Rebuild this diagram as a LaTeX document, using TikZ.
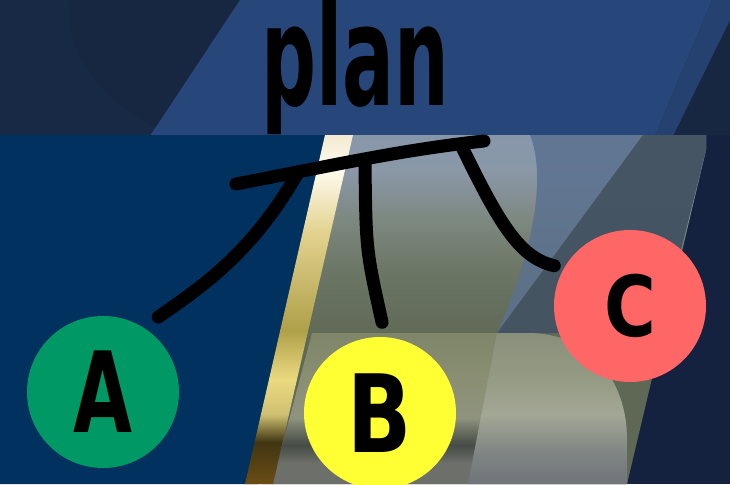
\documentclass[tikz,border=0pt]{standalone}
\usepackage{fontspec}
\setmainfont{DejaVu Sans}
\usetikzlibrary{calc}
\definecolor{topdark}{HTML}{172641}
\definecolor{toplight}{HTML}{27477A}
\definecolor{navy}{HTML}{14213F}
\definecolor{leftblue}{HTML}{00315F}
\definecolor{greenA}{HTML}{009966}
\definecolor{yellowB}{HTML}{FFFF33}
\definecolor{redC}{HTML}{FF6666}
\definecolor{midR}{HTML}{5B7190}
\definecolor{midD}{HTML}{3F4D58}
\definecolor{g1}{HTML}{6A4D14}\definecolor{g2}{HTML}{403512}
\definecolor{g3}{HTML}{CFC173}\definecolor{g4}{HTML}{EBD97F}
\definecolor{g5}{HTML}{AFA04A}\definecolor{g6}{HTML}{E2D28E}
\definecolor{g7}{HTML}{FFFBEF}\definecolor{g8}{HTML}{F3EAD0}
\pgfdeclareverticalshading{gold}{100bp}{color(0bp)=(g1); color(25bp)=(g1);
  color(31bp)=(g2); color(35bp)=(g3); color(40bp)=(g4); color(47bp)=(g5);
  color(61bp)=(g6); color(70bp)=(g7); color(75bp)=(g8); color(100bp)=(g8)}
\definecolor{m1}{HTML}{5E6854}\definecolor{m2}{HTML}{6B7564}
\definecolor{m3}{HTML}{7D8880}\definecolor{m4}{HTML}{8A98A8}\definecolor{m5}{HTML}{8797AA}
\pgfdeclareverticalshading{midshade}{100bp}{color(0bp)=(m1); color(25bp)=(m1);
  color(45bp)=(m1); color(55bp)=(m2); color(63bp)=(m3); color(70bp)=(m4); color(75bp)=(m5); color(100bp)=(m5)}
\definecolor{p1}{HTML}{6C6F6A}\definecolor{p2}{HTML}{454B46}
\definecolor{p3}{HTML}{8F937E}\definecolor{p4}{HTML}{8A8F73}\definecolor{p5}{HTML}{7E8569}
\pgfdeclareverticalshading{panelL}{100bp}{color(0bp)=(p1); color(25bp)=(p1);
  color(32bp)=(p1); color(38bp)=(p2); color(47bp)=(p3); color(60bp)=(p4); color(75bp)=(p5); color(100bp)=(p5)}
\definecolor{q1}{HTML}{707479}\definecolor{q2}{HTML}{7F8484}
\definecolor{q3}{HTML}{A3A795}\definecolor{q4}{HTML}{959A84}\definecolor{q5}{HTML}{8A8F7B}
\pgfdeclareverticalshading{panelR}{100bp}{color(0bp)=(q1); color(25bp)=(q1);
  color(35bp)=(q2); color(48bp)=(q3); color(60bp)=(q4); color(75bp)=(q5); color(100bp)=(q5)}
\tikzset{
  circ/.style={circle, minimum size=152pt, inner sep=0pt},
  link/.style={line width=13pt, line cap=round, black},
}
\begin{document}
\begin{tikzpicture}[x=1pt,y=-1pt]
\useasboundingbox (0,0) rectangle (730,484);
% top band
\fill[topdark] (0,0) rectangle (730,136);
\fill[topdark!92!toplight] (70,0) .. controls (60,60) and (120,120) .. (180,136) -- (0,136) -- (0,0) -- cycle;
\fill[toplight] (240,0) -- (712,0) -- (655,136) -- (150,136) -- cycle;
\fill[toplight!80!topdark] (712,0) -- (730,0) -- (730,20) -- (673,136) -- (655,136) -- cycle;
% lower band
\fill[navy] (0,135) rectangle (730,484);
\fill[leftblue] (0,135) -- (335,135) -- (258,484) -- (0,484) -- cycle;
\shade[shading=midshade] (340,135) -- (706,135) -- (706,150) -- (627,484) -- (262,484) -- cycle;
\fill[midR, opacity=0.85] (530,135) .. controls (548,180) and (530,260) .. (497,333) -- (660,333) -- (706,150) -- (706,135) -- cycle;
\fill[midD, opacity=0.8] (643,135) -- (706,135) -- (706,150) -- (660,333) -- (497,333) -- cycle;
% lower panel
\shade[shading=panelL] (312,333) -- (527,333) .. controls (590,333) and (627,380) .. (627,440) -- (627,484) -- (272,484) -- cycle;
\shade[shading=panelR] (497,333) -- (527,333) .. controls (590,333) and (627,380) .. (627,440) -- (627,484) -- (468,484) -- cycle;
% gold stripe
\shade[shading=gold] (325,135) -- (353,135) -- (273,484) -- (245,484) -- cycle;
% title
\node[anchor=base, font=\fontsize{122}{122}\selectfont\bfseries] (plan) at (355,106) {\scalebox{0.63}[1.15]{plan}};
% bar and branch points
\coordinate (bl) at (236,184);
\coordinate (br) at (484,141);
\coordinate (tA) at (296,176);
\coordinate (tB) at (365,164);
\coordinate (tC) at (462,147);
\draw[link] (bl) .. controls (330,166) and (400,150) .. (br);
% nodes
\node[circ, fill=greenA] (A) at (103,392) {\scalebox{0.68}[1]{\fontsize{112}{112}\selectfont\bfseries A}};
\node[circ, fill=yellowB] (B) at (380,413) {\raisebox{-4pt}{\scalebox{0.78}[1]{\fontsize{108}{108}\selectfont\bfseries B}}};
\node[circ, fill=redC] (C) at (630,306) {\scalebox{0.84}[1]{\fontsize{84}{84}\selectfont\bfseries C}};
% connectors
\draw[link, shorten >=18pt] (tA) .. controls (250,255) and (200,288) .. (A.58);
\draw[link, shorten >=15pt] (tB) .. controls (366,250) .. (B.86);
\draw[link, shorten >=10pt] (tC) .. controls (500,225) and (520,258) .. (C.150);
\end{tikzpicture}
\end{document}
